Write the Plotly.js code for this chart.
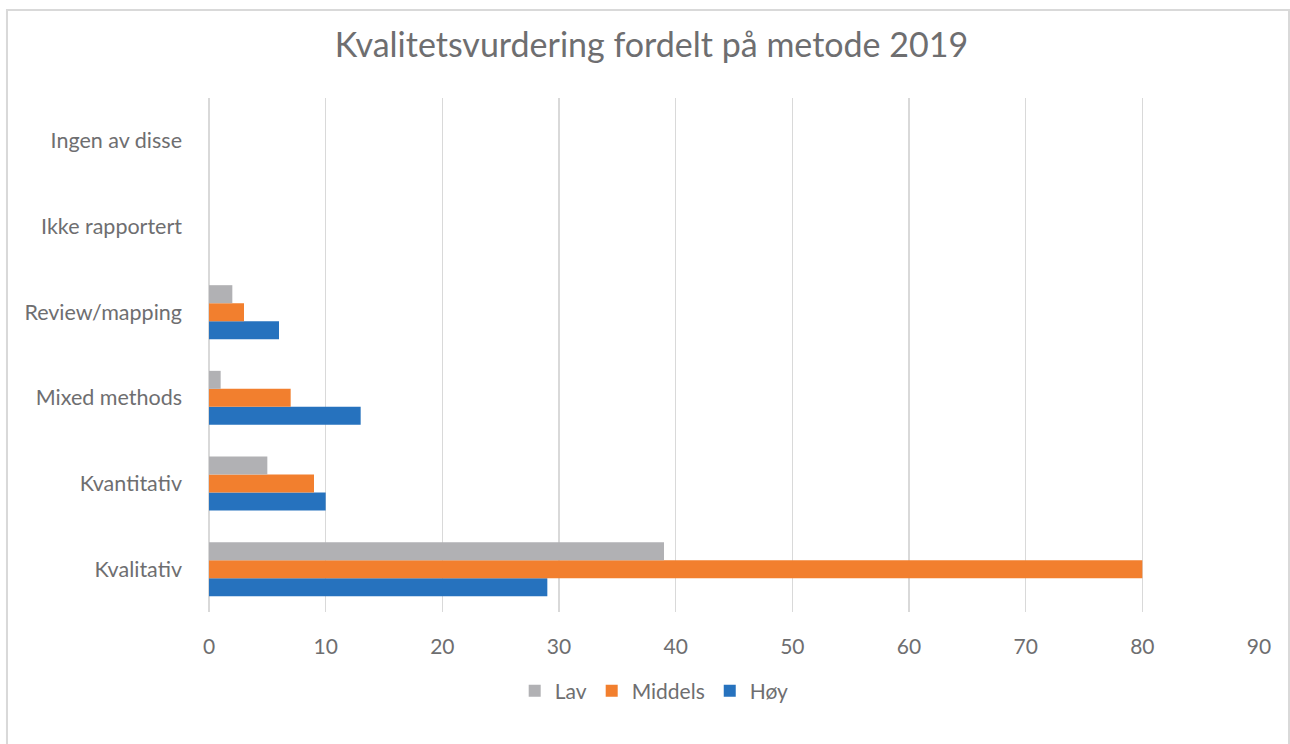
<!DOCTYPE html>
<html><head><meta charset="utf-8">
<script src="https://cdn.plot.ly/plotly-3.0.1.min.js"></script>
<style>html,body{margin:0;padding:0;background:#fff}#c{width:1290px;height:744px}</style>
</head><body><div id="c"></div>
<script>
const categories = ["Kvalitativ","Kvantitativ","Mixed methods","Review/mapping","Ikke rapportert","Ingen av disse"];
const lav = [39, 5, 1, 2, 0, 0];
const middels = [80, 9, 7, 3, 0, 0];
const hoy = [29, 10, 13, 6, 0, 0];
const xTicks = [0,10,20,30,40,50,60,70,80,90];

const font = "Lato, 'Open Sans', sans-serif";
const traces = [
  {type:'bar', orientation:'h', name:'Høy', y:categories, x:hoy, marker:{color:'#2672be'}},
  {type:'bar', orientation:'h', name:'Middels', y:categories, x:middels, marker:{color:'#f27f2e'}},
  {type:'bar', orientation:'h', name:'Lav', y:categories, x:lav, marker:{color:'#b1b1b4'}}
];
const layout = {
  width:1290, height:744,
  margin:{l:209, r:31, t:98, b:132},
  paper_bgcolor:'#fff', plot_bgcolor:'#fff',
  font:{family:font, color:'#6e6e70', size:21},
  title:{text:'Kvalitetsvurdering fordelt på metode 2019', x:0.505, xref:'container', xanchor:'center', y:0.94, yanchor:'middle',
         font:{family:font, size:34, color:'#6e6e70'}},
  barmode:'group', bargap:0.37, bargroupgap:0,
  xaxis:{range:[0,90], tickvals:xTicks, showgrid:true, gridcolor:'#d9d9d9', gridwidth:1.5,
         zeroline:true, zerolinecolor:'#d9d9d9', zerolinewidth:1.5, showline:false, ticks:'', ticklabelstandoff:20,
         tickfont:{size:21, color:'#6e6e70'}, fixedrange:true},
  yaxis:{categoryorder:'array', categoryarray:categories, showgrid:false, zeroline:false, showline:false,
         ticks:'', ticklabelstandoff:26, tickfont:{size:21.5, color:'#6e6e70'}},
  showlegend:true,
  legend:{orientation:'h', traceorder:'reversed', x:0.424, xanchor:'center', y:-0.154, yanchor:'middle',
          font:{size:21, color:'#6e6e70'}, itemwidth:30},
  shapes:[{type:'rect', xref:'paper', yref:'paper', x0:-0.1924, x1:1.0286, y0:-0.3, y1:1.1712,
           line:{color:'#d9d9d9', width:2}, fillcolor:'rgba(0,0,0,0)', layer:'below'}]
};
Plotly.newPlot('c', traces, layout, {displayModeBar:false, staticPlot:true});
</script></body></html>
